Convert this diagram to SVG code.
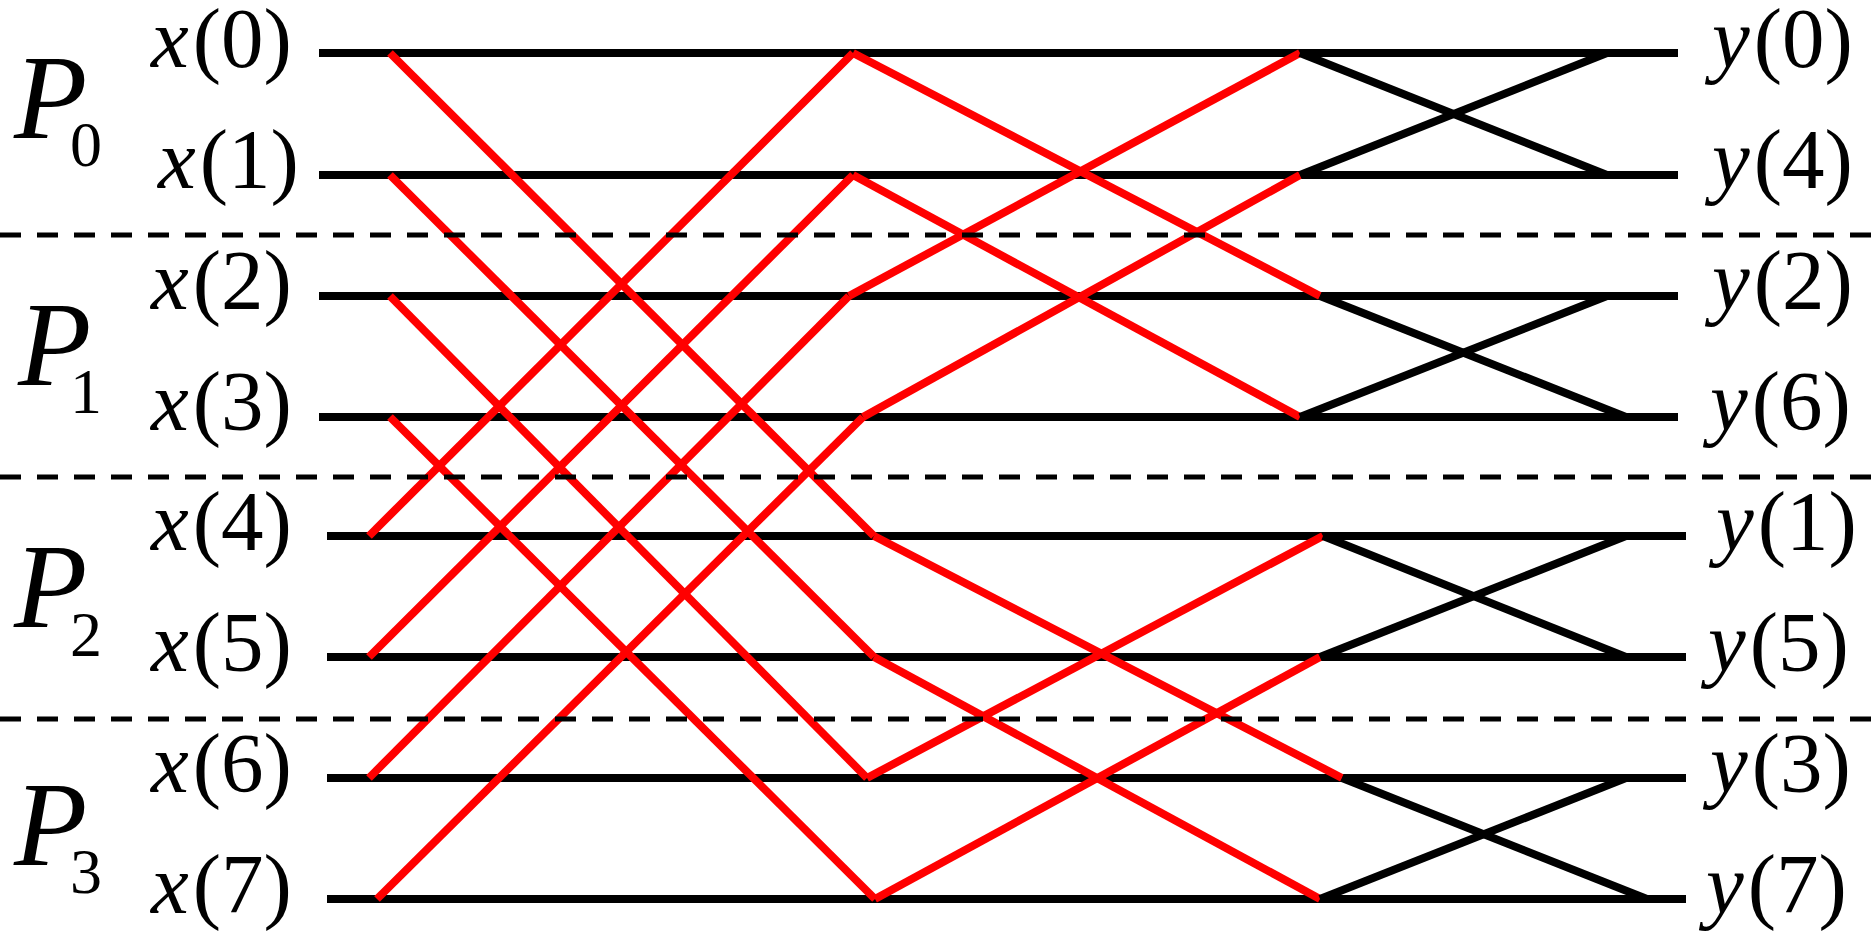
<svg xmlns="http://www.w3.org/2000/svg" width="1872" height="931" viewBox="0 0 1872 931">
<style>
.bg{fill:#fff}
.h{stroke:#000;stroke-width:8;fill:none}
.r{stroke:#f00;stroke-width:8;fill:none}
.k{stroke:#000;stroke-width:8;fill:none}
.d{stroke:#000;stroke-width:5;stroke-dasharray:21 16;fill:none}
.lab{font-family:"Liberation Serif","Times New Roman",serif;font-size:85px;fill:#000}
.it{font-style:italic}
.P{font-family:"Liberation Serif","Times New Roman",serif;font-size:120px;font-style:italic;fill:#000}
.sub{font-family:"Liberation Serif","Times New Roman",serif;font-size:64px;fill:#000}
</style>
<rect class="bg" x="0" y="0" width="1872" height="931"/>
<g id="connectors">
  <g id="rails">
    <line class="h" x1="319" y1="53" x2="1678" y2="53"/>
    <line class="h" x1="319" y1="175" x2="1678" y2="175"/>
    <line class="h" x1="319" y1="296" x2="1678" y2="296"/>
    <line class="h" x1="319" y1="417" x2="1678" y2="417"/>
    <line class="h" x1="327" y1="536" x2="1686" y2="536"/>
    <line class="h" x1="327" y1="657" x2="1686" y2="657"/>
    <line class="h" x1="327" y1="778" x2="1686" y2="778"/>
    <line class="h" x1="327" y1="899" x2="1686" y2="899"/>
  </g>
  <g id="stage1">
    <line class="r" x1="390" y1="53" x2="874" y2="536"/>
    <line class="r" x1="390" y1="175" x2="874" y2="657"/>
    <line class="r" x1="390" y1="296" x2="867" y2="778"/>
    <line class="r" x1="390" y1="417" x2="875" y2="899"/>
    <line class="r" x1="369" y1="536" x2="853" y2="53"/>
    <line class="r" x1="369" y1="657" x2="853" y2="175"/>
    <line class="r" x1="369" y1="778" x2="849" y2="296"/>
    <line class="r" x1="377" y1="899" x2="863" y2="417"/>
  </g>
  <g id="stage2">
    <line class="r" x1="853" y1="53" x2="1320" y2="296"/>
    <line class="r" x1="853" y1="175" x2="1300" y2="417"/>
    <line class="r" x1="849" y1="296" x2="1300" y2="53"/>
    <line class="r" x1="863" y1="417" x2="1300" y2="175"/>
    <line class="r" x1="874" y1="536" x2="1342" y2="778"/>
    <line class="r" x1="874" y1="657" x2="1320" y2="899"/>
    <line class="r" x1="867" y1="778" x2="1323" y2="536"/>
    <line class="r" x1="875" y1="899" x2="1320" y2="657"/>
  </g>
  <g id="stage3">
    <line class="k" x1="1300" y1="53" x2="1607" y2="175"/>
    <line class="k" x1="1300" y1="175" x2="1607" y2="53"/>
    <line class="k" x1="1320" y1="296" x2="1626" y2="417"/>
    <line class="k" x1="1300" y1="417" x2="1607" y2="296"/>
    <line class="k" x1="1323" y1="536" x2="1626" y2="657"/>
    <line class="k" x1="1320" y1="657" x2="1626" y2="536"/>
    <line class="k" x1="1342" y1="778" x2="1647" y2="899"/>
    <line class="k" x1="1320" y1="899" x2="1626" y2="778"/>
  </g>
  <g id="dividers">
    <line class="d" x1="0" y1="235" x2="1872" y2="235"/>
    <line class="d" x1="0" y1="477" x2="1872" y2="477"/>
    <line class="d" x1="0" y1="719" x2="1872" y2="719"/>
  </g>
</g>
<g id="P0"><text class="P" x="14" y="138">P</text><text class="sub" x="70" y="166">0</text></g>
<g id="P1"><text class="P" x="18" y="385">P</text><text class="sub" x="70" y="413">1</text></g>
<g id="P2"><text class="P" x="14" y="627">P</text><text class="sub" x="70" y="656">2</text></g>
<g id="P3"><text class="P" x="14" y="865">P</text><text class="sub" x="70" y="893">3</text></g>
<g id="x0"><text class="lab" x="151" y="67"><tspan class="it">x</tspan><tspan dx="4">(0)</tspan></text></g>
<g id="x1"><text class="lab" x="158" y="188"><tspan class="it">x</tspan><tspan dx="4">(1)</tspan></text></g>
<g id="x2"><text class="lab" x="151" y="309"><tspan class="it">x</tspan><tspan dx="4">(2)</tspan></text></g>
<g id="x3"><text class="lab" x="151" y="430"><tspan class="it">x</tspan><tspan dx="4">(3)</tspan></text></g>
<g id="x4"><text class="lab" x="151" y="550"><tspan class="it">x</tspan><tspan dx="4">(4)</tspan></text></g>
<g id="x5"><text class="lab" x="151" y="671"><tspan class="it">x</tspan><tspan dx="4">(5)</tspan></text></g>
<g id="x6"><text class="lab" x="151" y="792"><tspan class="it">x</tspan><tspan dx="4">(6)</tspan></text></g>
<g id="x7"><text class="lab" x="151" y="913"><tspan class="it">x</tspan><tspan dx="4">(7)</tspan></text></g>
<g id="y0"><text class="lab" x="1712" y="67"><tspan class="it">y</tspan><tspan dx="4">(0)</tspan></text></g>
<g id="y4"><text class="lab" x="1712" y="188"><tspan class="it">y</tspan><tspan dx="4">(4)</tspan></text></g>
<g id="y2"><text class="lab" x="1712" y="309"><tspan class="it">y</tspan><tspan dx="4">(2)</tspan></text></g>
<g id="y6"><text class="lab" x="1710" y="430"><tspan class="it">y</tspan><tspan dx="4">(6)</tspan></text></g>
<g id="y1"><text class="lab" x="1716" y="550"><tspan class="it">y</tspan><tspan dx="4">(1)</tspan></text></g>
<g id="y5"><text class="lab" x="1708" y="671"><tspan class="it">y</tspan><tspan dx="4">(5)</tspan></text></g>
<g id="y3"><text class="lab" x="1710" y="792"><tspan class="it">y</tspan><tspan dx="4">(3)</tspan></text></g>
<g id="y7"><text class="lab" x="1706" y="913"><tspan class="it">y</tspan><tspan dx="4">(7)</tspan></text></g>
</svg>
